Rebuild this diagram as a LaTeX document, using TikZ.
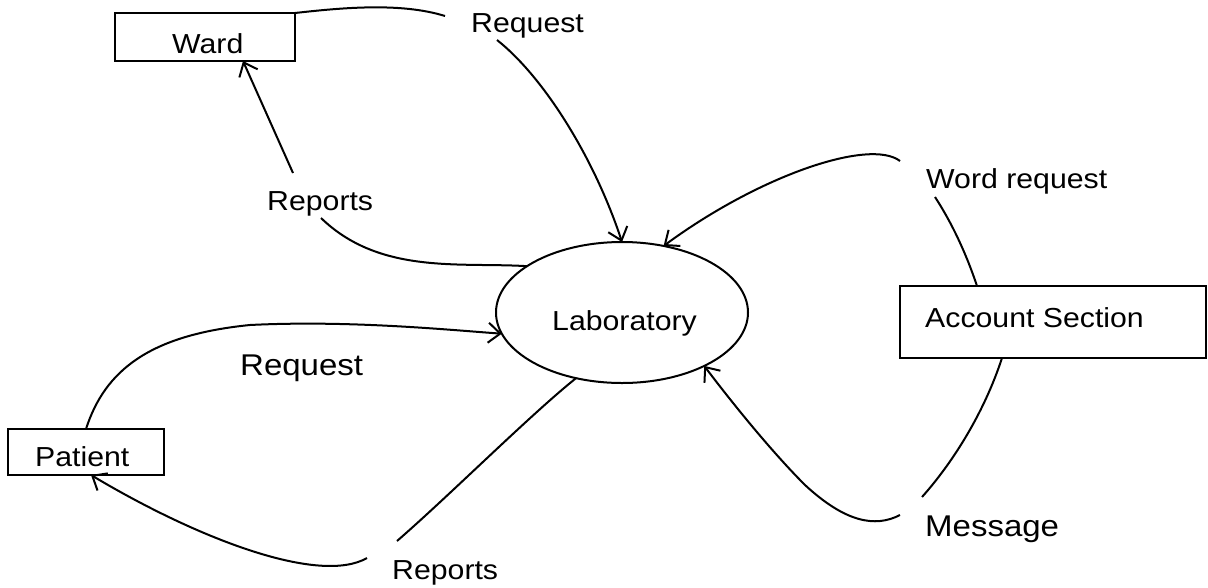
\documentclass[tikz,border=0pt]{standalone}
\usepackage{fontspec}
\setmainfont{Liberation Sans}[FakeStretch=1.1]
\usetikzlibrary{arrows.meta,shapes.geometric}
\begin{document}
\begin{tikzpicture}[x=1pt,y=-1pt,
  flow/.style={line width=2pt},
  arr/.style={flow,-{Straight Barb[length=12pt,width=20pt]}},
  entity/.style={draw, line width=2pt, rectangle, inner sep=0pt, outer sep=0pt},
  process/.style={draw, line width=2pt, ellipse, inner sep=0pt, outer sep=0pt},
  lbl/.style={inner sep=0pt, anchor=base west, font=\fontsize{27.5}{30}\selectfont},
  biglbl/.style={lbl, font=\fontsize{30}{33}\selectfont}]
\useasboundingbox (0,0) rectangle (1208,587);

% entities and the central process
\node[entity, minimum width=180pt, minimum height=48pt] (ward) at (205,37) {};
\node[entity, minimum width=306pt, minimum height=72pt] (acct) at (1053,322) {};
\node[entity, minimum width=156pt, minimum height=46pt] (patient) at (86,452) {};
\node[process, minimum width=252pt, minimum height=141pt] (lab) at (622,312.5) {};

% names
\node[lbl] (wardtxt) at (172,53) {Ward};
\node[lbl] (labtxt) at (552,330) {Laboratory};
\node[lbl] (accttxt) at (925,327) {Account Section};
\node[lbl] (patienttxt) at (35,466) {Patient};

% flow labels
\node[lbl] (reqtop) at (471,32) {Request};
\node[lbl] (reptop) at (267,210) {Reports};
\node[lbl] (wreq) at (926,188) {Word request};
\node[biglbl] (msg) at (925,536) {Message};
\node[biglbl] (reqmid) at (240,375) {Request};
\node[lbl] (repbot) at (392,579) {Reports};

% loose ends of the flows next to their labels
\coordinate (reqtopL) at (445,16);
\coordinate (reqtopB) at (497,40);
\coordinate (wreqR) at (900,161);
\coordinate (wreqB) at (935,197);
\coordinate (msgT) at (922,497);
\coordinate (msgL) at (900,515);
\coordinate (repbotT) at (397,541);
\coordinate (repbotL) at (367,558);
\coordinate (reptopB) at (321,218);
\coordinate (reptopA) at (293,173);

% Ward -> Laboratory
\draw[flow] (ward.north east) .. controls (340,8) and (400,2) .. (reqtopL);
\draw[arr] (reqtopB) .. controls (545,78) and (595,160) .. (lab.north);

% Laboratory -> Ward
\draw[flow] (lab.154) .. controls (460,262) and (380,275) .. (reptopB);
\draw[arr] (reptopA) -- ([xshift=128pt]ward.south west);

% Account Section -> Laboratory
\draw[flow] (wreqB) .. controls (950,220) and (965,250) .. ([xshift=77pt]acct.north west);
\draw[arr] (wreqR) .. controls (870,138) and (760,175) .. (lab.58);
\draw[flow] ([xshift=102pt]acct.south west) .. controls (985,410) and (955,460) .. (msgT);
\draw[arr] (msgL) .. controls (875,528) and (845,522) .. (805,485)
                  .. controls (770,450) and (730,400) .. (lab.-33);

% Patient <-> Laboratory
\draw[arr] (patient.north) .. controls (105,370) and (150,335) .. (250,325)
                           .. controls (350,320) and (450,330) .. (lab.190);
\draw[flow] (lab.-125) .. controls (530,415) and (450,495) .. (repbotT);
\draw[arr] (repbotL) .. controls (320,585) and (200,540) .. ([xshift=83pt]patient.south west);
\end{tikzpicture}
\end{document}
